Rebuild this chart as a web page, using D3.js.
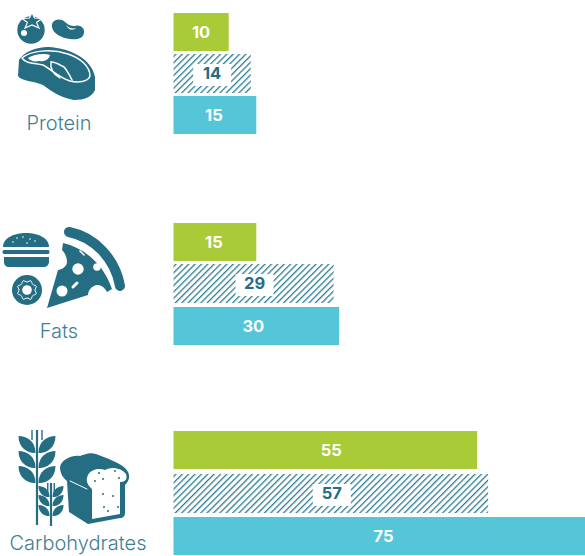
<!DOCTYPE html>
<html>
<head>
<meta charset="utf-8">
<script src="https://cdn.jsdelivr.net/npm/d3@7"></script>
<style>
html, body { margin: 0; padding: 0; background: #fff; overflow: hidden; }
</style>
</head>
<body>
<div id="chart"></div>
<script>
const categories = ["Protein", "Fats", "Carbohydrates"];
const seriesNames = ["green", "hatched", "blue"];
const greenValues = [10, 15, 55];
const hatchedValues = [14, 29, 57];
const blueValues = [15, 30, 75];

const width = 585;
const height = 556;
const teal = "#246d82";

const svg = d3.select("#chart")
    .append("svg")
    .attr("width", width)
    .attr("height", height)
    .style("display", "block");

const defs = svg.append("defs");

// Diagonal stripes for the middle bar
defs.append("pattern")
    .attr("id", "hatch")
    .attr("patternUnits", "userSpaceOnUse")
    .attr("width", 4.5)
    .attr("height", 4.5)
    .attr("patternTransform", "rotate(45)")
    .append("rect")
    .attr("width", 1.3)
    .attr("height", 4.5)
    .attr("fill", "#2f7c91");

const x = d3.scaleLinear().domain([0, 75]).range([173.5, 587.5]);
const groupY = d3.scaleOrdinal().domain(categories).range([13, 223, 431]);
const barHeight = 38;

// Row spacing is a touch different in each group of the original
const rowOffsets = {
    Protein: { green: 0, hatched: 41, blue: 83 },
    Fats: { green: 0, hatched: 41, blue: 84 },
    Carbohydrates: { green: 0, hatched: 43, blue: 86 }
};

const rows = categories.flatMap((c, i) => [
    { category: c, series: "green", value: greenValues[i] },
    { category: c, series: "hatched", value: hatchedValues[i] },
    { category: c, series: "blue", value: blueValues[i] }
]);

const fills = { green: "#a9cb37", hatched: "url(#hatch)", blue: "#54c6d8" };
// Labels don't sit dead centre in the original
const labelNudge = { 10: 0, 14: 0, 15: -1, 29: 1, 30: -3, 55: 6, 57: 1, 75: 3 };
const labelX = d => x(d.value / 2) + labelNudge[d.value];
const barTop = d => groupY(d.category) + rowOffsets[d.category][d.series];

svg.append("g")
    .selectAll("rect")
    .data(rows)
    .enter().append("rect")
    .attr("x", x(0))
    .attr("y", barTop)
    .attr("width", d => x(d.value) - x(0))
    .attr("height", d => d.series === "hatched" ? barHeight + 1 : barHeight)
    .attr("fill", d => fills[d.series]);

// White box behind the hatched bar numbers
svg.append("g")
    .selectAll("rect")
    .data(rows.filter(d => d.series === "hatched"))
    .enter().append("rect")
    .attr("x", d => labelX(d) - 19)
    .attr("y", d => barTop(d) + 10)
    .attr("width", 38)
    .attr("height", 22)
    .attr("fill", "#fff");

svg.append("g")
    .selectAll("text")
    .data(rows)
    .enter().append("text")
    .attr("x", labelX)
    .attr("y", d => barTop(d) + barHeight / 2 + 6)
    .attr("text-anchor", "middle")
    .attr("font-family", "Inter, sans-serif")
    .attr("font-weight", 700)
    .attr("font-size", "16.5px")
    .attr("fill", d => d.series === "hatched" ? teal : "#fff")
    .text(d => d.value);

// Category names under the icons
const labelCentres = { Protein: [59, 130], Fats: [59, 338], Carbohydrates: [78, 550] };
svg.append("g")
    .selectAll("text")
    .data(categories)
    .enter().append("text")
    .attr("x", d => labelCentres[d][0])
    .attr("y", d => labelCentres[d][1])
    .attr("text-anchor", "middle")
    .attr("font-family", "Inter, sans-serif")
    .attr("font-weight", 300)
    .attr("font-size", "20px")
    .attr("fill", "#3f7f94")
    .text(d => d);

const icons = svg.append("g").attr("class", "icons");
const dark = (d) => icons.append("path").attr("d", d).attr("fill", teal);
const light = (d) => icons.append("path").attr("d", d).attr("fill", "#fff");
const line = (d, w, c) => icons.append("path").attr("d", d).attr("fill", "none")
    .attr("stroke", c).attr("stroke-width", w).attr("stroke-linecap", "round");
const dot = (cx, cy, r, c) => icons.append("circle").attr("cx", cx).attr("cy", cy).attr("r", r).attr("fill", c);

// Protein: tomato, bean, steak
dot(31, 30, 13.7, teal);
dark("M32,12.5 L34.5,18 L42,18.5 L36.5,22.5 L39,28 L32,25 L25,28 L27.5,22.5 L22,18.5 L29.5,18 Z").attr("stroke", "#fff").attr("stroke-width", 1.2);
dot(24, 33, 3, "#fff");
dark("M52,27 C51,21 57,18 62,20 C66,22 68,26 74,26 C80,24 85,28 84,33 C83,39 76,40 70,39 C62,38 53,34 52,27 Z");
light("M66,25 C69,28 72,29 76,28 C73,31 68,30 66,25 Z");
dark("M19,60 C24,52 36,47 48,47 C72,48 92,60 95,77 L95,90 C92,97 84,100 74,100 C62,98 52,92 43,85 C34,81 21,81 18,76 Z");
line("M22,58 C30,51 50,48 68,54 C80,58 90,66 90,76 C88,82 78,83 70,81 C60,78 52,70 43,65 C35,63 26,64 22,58 Z", 1.5, "#fff");
light("M28,58 C34,54 44,53 50,55 C49,60 44,62 39,61 C35,62 30,61 28,58 Z");
line("M51,62 C56,62 60,65 64,67 C67,70 70,76 72,80", 1.6, "#fff");
line("M51,62 C50,68 53,74 60,78", 1.4, "#fff");

// Fats: burger, donut, pizza
dark("M3,247 C3,238 14,233 26,233 C38,233 49,238 49,247 Z");
dark("M4,250 L48,250 C50,250 50,254 48,254 L4,254 C2,254 2,250 4,250 Z");
dark("M4,257 L49,257 L49,262 C49,265 46,267 44,267 L9,267 C6,267 4,265 4,262 Z");
[[17, 238], [23, 237], [30, 239], [35, 241], [13, 242], [27, 243]].forEach(p => dot(p[0], p[1], 0.8, "#fff"));
// Donut icon: gear shaped outline drawn as closed radial curves
const gear = (r, bump) => d3.lineRadial().curve(d3.curveCardinalClosed)(
    d3.range(16).map(i => [i * Math.PI / 8, i % 2 ? r + bump : r - bump]));
dot(27, 290, 15, teal);
icons.append("path").attr("d", gear(9, 1)).attr("transform", "translate(27,290)")
    .attr("fill", "none").attr("stroke", "#fff").attr("stroke-width", 1);
dot(27, 290, 4.8, "#fff");
dark("M63,243 C85,248 104,265 112,289 L107,292 C104,286 100,285 97,285 C91,286 88,291 88,295 L47,308 L58,270 C62,270 67,266 67,262 C67,256 64,252 62,250 Z");
line("M69,232 C94,237 115,258 120,286", 10, teal);
dot(78, 269, 5.7, "#fff");
dot(97, 267, 3.8, "#fff");
dot(62, 291, 5.5, "#fff");
line("M73,287 L77,283", 3, "#fff");
line("M80,251 L84,255", 1.6, "#fff");

// Carbohydrates: wheat stalks, bread
const leaf = (cx, cy, s, dir) => dark(`M${cx},${cy} C${cx + dir * 6 * s},${cy + 1 * s} ${cx + dir * 17 * s},${cy - 4 * s} ${cx + dir * 17 * s},${cy - 17 * s} C${cx + dir * 9 * s},${cy - 17 * s} ${cx},${cy - 12 * s} ${cx},${cy} Z`);
const wheat = (cx, top, bottom, rowsAt, s) => {
    line(`M${cx},${top} L${cx},${bottom}`, 2.2, teal).attr("stroke-linecap", "butt");
    line(`M${cx - 5 * s},${top} L${cx - 5 * s},${top + 10} M${cx + 5 * s},${top} L${cx + 5 * s},${top + 10}`, 1.4, teal).attr("stroke-linecap", "butt");
    rowsAt.forEach(y => {
        leaf(cx + 1.5, y, s, 1);
        leaf(cx - 1.5, y, s, -1);
    });
};
wheat(37, 430, 525, [453, 468, 483], 1);
wheat(51, 483, 526, [497, 506, 516], 0.65);
dark("M60,467 C62,459 72,455 80,456 C85,454 90,452 96,454 C106,458 118,462 125,468 C131,474 130,480 125,485 L125,513 C125,516 123,518 120,518 L88,524 L69,512 L67,481 C62,477 60,472 60,467 Z");
light("M88,475 C91,469 100,468 105,470 C111,466 122,468 126,474 C128,480 124,482 120,482 L120,514 L92,519 L92,489 C88,486 85,481 88,475 Z");
line("M70,481 L87,489", 1, "#fff");
[[99, 473], [115, 471], [119, 478], [95, 481], [103, 479], [103, 494], [113, 496], [118, 507], [104, 507], [108, 511]].forEach(p => dot(p[0], p[1], 1, teal));
</script>
</body>
</html>
